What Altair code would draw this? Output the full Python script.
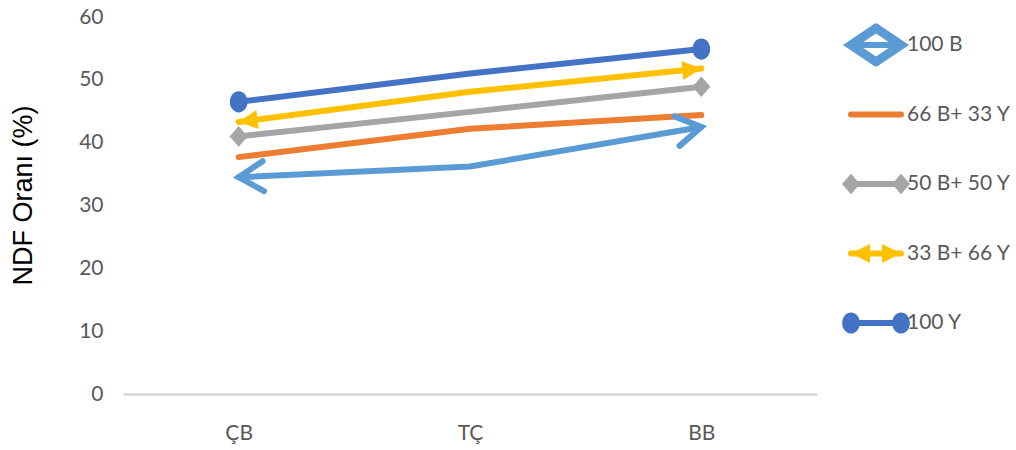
import math

import altair as alt
import pandas as pd

# ---- data -------------------------------------------------------------
categories = ["ÇB", "TÇ", "BB"]
series = ["100 B", "66 B+ 33 Y", "50 B+ 50 Y", "33 B+ 66 Y", "100 Y"]
v_100b = [34.5, 36.2, 42.5]
v_66b33y = [37.7, 42.2, 44.4]
v_50b50y = [41.0, 44.9, 48.9]
v_33b66y = [43.3, 48.1, 51.8]
v_100y = [46.5, 51.0, 54.9]
y_ticks = [0, 10, 20, 30, 40, 50, 60]

colors = ["#5B9BD5", "#ED7D31", "#A5A5A5", "#FFC000", "#4472C4"]

values = {
    "100 B": v_100b,
    "66 B+ 33 Y": v_66b33y,
    "50 B+ 50 Y": v_50b50y,
    "33 B+ 66 Y": v_33b66y,
    "100 Y": v_100y,
}

rows = []
for s in series:
    for i, (c, v) in enumerate(zip(categories, values[s])):
        rows.append({"series": s, "cat": c, "idx": i, "value": v})
df = pd.DataFrame(rows)

legend_df = pd.DataFrame(
    [{"series": s, "end": e} for s in series for e in ["start", "end"]]
)

# ---- sizes & styles ---------------------------------------------------
W, H = 694, 377
Y_MAX = 60
LABEL_FONT = "Lato, Liberation Sans, sans-serif"
TITLE_FONT = "Liberation Sans, Arial, sans-serif"
LABEL_SIZE = 21
LABEL_COLOR = "#595959"
LW = 6

# marker shapes (custom SVG paths, unit coordinates)
CHEVRON_R = "M-1.9,-1.15L0,0L-1.9,1.15"
CHEVRON_L = "M1.9,-1.15L0,0L1.9,1.15"
LEG_CHEVRON_R = "M-1.85,-1.25L0,0L-1.85,1.25"
LEG_CHEVRON_L = "M1.85,-1.25L0,0L1.85,1.25"
TRI_R = "M0,0L-2,-1L-2,1Z"
TRI_L = "M0,0L2,-1L2,1Z"
DIAMOND = "M-1,0L0,-1.15L1,0L0,1.15Z"
ELLIPSE = "M0,-1.2A1,1.2 0 1,1 0,1.2A1,1.2 0 1,1 0,-1.2Z"


def seg_angle(vals, i, j):
    """Screen angle (deg, 0..360) of an arrow continuing the segment i->j."""
    step = W / len(categories)
    dy = (vals[j] - vals[i]) * H / Y_MAX
    a = math.degrees(math.atan2(dy, step))
    return (360 - a) % 360


color_scale = alt.Scale(domain=series, range=colors)
x_scale = alt.Scale(type="point", domain=categories, padding=0.5)
y_scale = alt.Scale(domain=[0, Y_MAX])
no_color_legend = alt.Color("series:N", scale=color_scale, legend=None)

base = alt.Chart(df)

lines = base.mark_line(strokeWidth=LW, strokeCap="round", strokeJoin="round").encode(
    x=alt.X(
        "cat:N",
        scale=x_scale,
        sort=categories,
        axis=alt.Axis(
            title=None,
            ticks=False,
            grid=False,
            domainColor="#D9D9D9",
            domainWidth=2.5,
            labelAngle=0,
            labelFont=LABEL_FONT,
            labelFontSize=LABEL_SIZE,
            labelColor=LABEL_COLOR,
            labelPadding=28,
        ),
    ),
    y=alt.Y(
        "value:Q",
        scale=y_scale,
        axis=alt.Axis(
            values=y_ticks,
            title="NDF Oranı (%)",
            titleFont=TITLE_FONT,
            titleFontSize=27,
            titleFontWeight="normal",
            titleColor="#000000",
            titleAngle=270,
            titleAlign="center",
            titleBaseline="middle",
            titleX=-100,
            titleY=178,
            domain=False,
            ticks=False,
            grid=False,
            labelFont=LABEL_FONT,
            labelFontSize=LABEL_SIZE,
            labelColor=LABEL_COLOR,
            labelPadding=20,
        ),
    ),
    color=no_color_legend,
    detail="series:N",
    order=alt.Order("idx:Q"),
)


def end_marker(name, cat, shape, size, angle, filled):
    mark_kw = dict(shape=shape, size=size, angle=angle, opacity=1,
                   filled=filled, strokeJoin="miter")
    if not filled:
        mark_kw.update(strokeWidth=LW, strokeCap="round")
    return base.mark_point(**mark_kw).encode(
        x=alt.X("cat:N", scale=x_scale, axis=None),
        y=alt.Y("value:Q", scale=y_scale, axis=None),
        color=no_color_legend,
    ).transform_filter(
        (alt.datum.series == name) & (alt.datum.cat == cat)
    )


markers = [
    end_marker("100 B", "ÇB", CHEVRON_L, 676, seg_angle(v_100b, 0, 1), False),
    end_marker("100 B", "BB", CHEVRON_R, 676, seg_angle(v_100b, 1, 2), False),
    end_marker("50 B+ 50 Y", "ÇB", DIAMOND, 324, 0, True),
    end_marker("50 B+ 50 Y", "BB", DIAMOND, 324, 0, True),
    end_marker("33 B+ 66 Y", "ÇB", TRI_L, 361, seg_angle(v_33b66y, 0, 1), True),
    end_marker("33 B+ 66 Y", "BB", TRI_R, 361, seg_angle(v_33b66y, 1, 2), True),
    end_marker("100 Y", "ÇB", ELLIPSE, 313, 0, True),
    end_marker("100 Y", "BB", ELLIPSE, 313, 0, True),
]

# ---- legend (right of the plot) --------------------------------------
lx = alt.Scale(type="point", domain=["start", "end"], range=[728, 778], padding=0)
ly = alt.Scale(type="point", domain=series, range=[28, 306], padding=0)
lbase = alt.Chart(legend_df)

leg_line = lbase.mark_line(strokeWidth=LW, strokeCap="round").encode(
    x=alt.X("end:N", scale=lx, sort=["start", "end"], axis=None),
    y=alt.Y("series:N", scale=ly, axis=None),
    color=no_color_legend,
    detail="series:N",
)


def leg_marker(name, end, shape, size, filled, stroke_width=LW):
    mark_kw = dict(shape=shape, size=size, opacity=1, filled=filled,
                   strokeJoin="miter")
    if not filled:
        mark_kw.update(strokeWidth=stroke_width, strokeCap="round")
    return lbase.mark_point(**mark_kw).encode(
        x=alt.X("end:N", scale=lx, axis=None),
        y=alt.Y("series:N", scale=ly, axis=None),
        color=no_color_legend,
    ).transform_filter(
        (alt.datum.series == name) & (alt.datum.end == end)
    )


leg_markers = [
    leg_marker("100 B", "start", LEG_CHEVRON_L, 729, False, 9),
    leg_marker("100 B", "end", LEG_CHEVRON_R, 729, False, 9),
    leg_marker("50 B+ 50 Y", "start", DIAMOND, 324, True),
    leg_marker("50 B+ 50 Y", "end", DIAMOND, 324, True),
    leg_marker("33 B+ 66 Y", "start", TRI_L, 361, True),
    leg_marker("33 B+ 66 Y", "end", TRI_R, 361, True),
    leg_marker("100 Y", "start", ELLIPSE, 313, True),
    leg_marker("100 Y", "end", ELLIPSE, 313, True),
]

leg_text = lbase.mark_text(
    align="left", baseline="middle", dx=6, font=LABEL_FONT, fontSize=LABEL_SIZE,
    color=LABEL_COLOR,
).encode(
    x=alt.X("end:N", scale=lx, axis=None),
    y=alt.Y("series:N", scale=ly, axis=None),
    text="series:N",
).transform_filter(alt.datum.end == "end")

chart = (
    alt.layer(lines, *markers, leg_line, *leg_markers, leg_text)
    .resolve_scale(x="independent", y="independent")
    .properties(
        width=W,
        height=H,
        autosize=alt.AutoSizeParams(type="none"),
        padding={"left": 123, "top": 17, "right": 199, "bottom": 56},
        background="white",
    )
    .configure_view(stroke=None)
)

chart.save("out.html", embed_options={"renderer": "svg", "actions": False})
